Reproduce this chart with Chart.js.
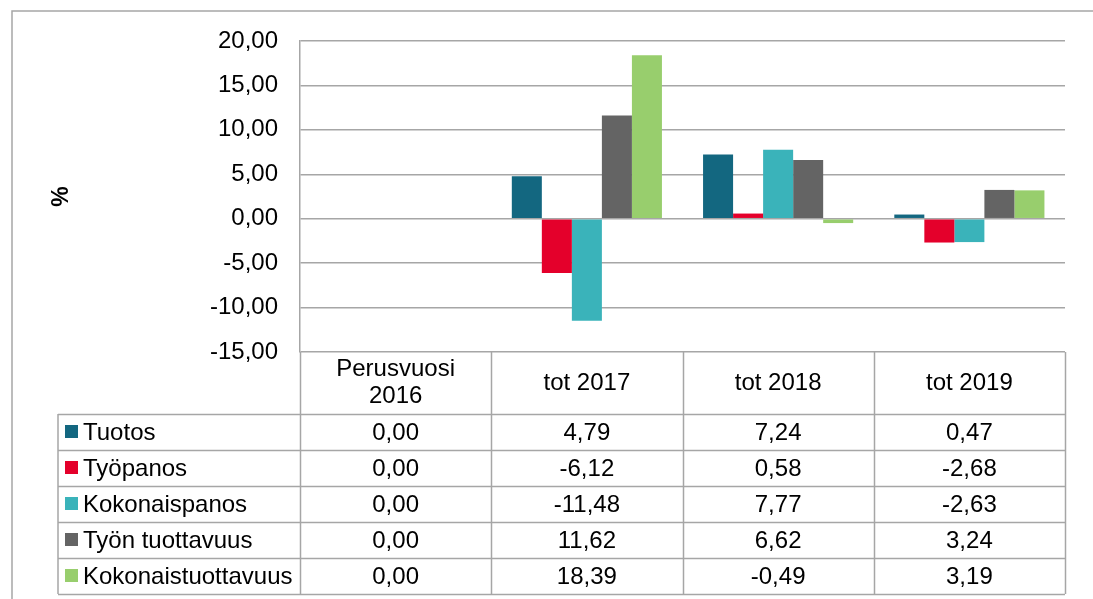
<!DOCTYPE html>
<html>
<head>
<meta charset="utf-8">
<script src="https://cdn.jsdelivr.net/npm/chart.js@4.4.1/dist/chart.umd.min.js"></script>
<style>
  body { margin: 0; background: #fff; }
  #wrap { width: 1093px; height: 599px; }
</style>
</head>
<body>
<div id="wrap"><canvas id="chart" width="1093" height="599"></canvas></div>
<script>
const categories = [['Perusvuosi', '2016'], 'tot 2017', 'tot 2018', 'tot 2019'];
const seriesNames = ['Tuotos', 'Työpanos', 'Kokonaispanos', 'Työn tuottavuus', 'Kokonaistuottavuus'];
const seriesColors = ['#136780', '#E4002B', '#3AB3BA', '#646464', '#98CE6D'];
const tuotos = [0.00, 4.79, 7.24, 0.47];
const tyopanos = [0.00, -6.12, 0.58, -2.68];
const kokonaispanos = [0.00, -11.48, 7.77, -2.63];
const tyonTuottavuus = [0.00, 11.62, 6.62, 3.24];
const kokonaistuottavuus = [0.00, 18.39, -0.49, 3.19];
const yTicks = [-15, -10, -5, 0, 5, 10, 15, 20];

const allSeries = [tuotos, tyopanos, kokonaispanos, tyonTuottavuus, kokonaistuottavuus];
const fmt = v => v.toFixed(2).replace('.', ',');
const FONT = '"Liberation Sans", Arial, sans-serif';
const lineCol = '#a6a6a6';

// outer frame + data table under the plot
const tablePlugin = {
  id: 'dataTable',
  beforeDraw(chart) {
    const ctx = chart.ctx;
    ctx.save();
    ctx.strokeStyle = lineCol;
    ctx.lineWidth = 1.5;
    ctx.beginPath();
    ctx.moveTo(12, 599);
    ctx.lineTo(12, 11);
    ctx.lineTo(1093, 11);
    ctx.stroke();
    ctx.restore();
  },
  afterDraw(chart) {
    const ctx = chart.ctx;
    const x = chart.scales.x;
    const area = chart.chartArea;
    const colW = (area.right - area.left) / categories.length;
    const top = area.bottom;
    const headH = 62, rowH = 36;
    const labelLeft = 58;
    const bottom = top + headH + rowH * seriesNames.length;

    ctx.save();
    ctx.strokeStyle = lineCol;
    ctx.lineWidth = 1.5;
    ctx.beginPath();
    // verticals for category columns
    for (let i = 0; i <= categories.length; i++) {
      const px = Math.round(area.left + colW * i) + 0.5;
      ctx.moveTo(px, top);
      ctx.lineTo(px, bottom);
    }
    ctx.moveTo(labelLeft, top + headH);
    ctx.lineTo(labelLeft, bottom);
    // horizontals
    for (let r = 0; r <= seriesNames.length; r++) {
      const py = Math.round(top + headH + rowH * r) + 0.5;
      ctx.moveTo(labelLeft, py);
      ctx.lineTo(area.right, py);
    }
    ctx.stroke();

    ctx.fillStyle = '#000';
    ctx.font = '24px ' + FONT;
    ctx.textAlign = 'center';
    ctx.textBaseline = 'middle';
    categories.forEach((c, i) => {
      const cx = x.getPixelForValue(i);
      const lines = Array.isArray(c) ? c : [c];
      const lh = 27;
      const y0 = top + headH / 2 - (lines.length - 1) * lh / 2;
      lines.forEach((t, k) => ctx.fillText(t, cx, y0 + k * lh));
    });

    seriesNames.forEach((name, r) => {
      const cy = top + headH + rowH * r + rowH / 2;
      ctx.fillStyle = seriesColors[r];
      ctx.fillRect(65, cy - 7, 13, 13);
      ctx.fillStyle = '#000';
      ctx.textAlign = 'left';
      ctx.fillText(name, 83, cy + 1);
      ctx.textAlign = 'center';
      allSeries[r].forEach((v, i) => {
        ctx.fillText(fmt(v), x.getPixelForValue(i), cy + 1);
      });
    });
    ctx.restore();
  }
};

const ctx = document.getElementById('chart').getContext('2d');
new Chart(ctx, {
  type: 'bar',
  data: {
    labels: categories,
    datasets: seriesNames.map((name, i) => ({
      label: name,
      data: allSeries[i],
      backgroundColor: seriesColors[i],
      borderWidth: 0
    }))
  },
  options: {
    responsive: false,
    animation: false,
    categoryPercentage: 0.785,
    barPercentage: 1,
    layout: { padding: { top: 41, right: 28, bottom: 247, left: 48 } },
    plugins: {
      legend: { display: false },
      tooltip: { enabled: false }
    },
    scales: {
      x: { display: false },
      y: {
        min: -15,
        max: 20,
        afterBuildTicks: s => { s.ticks = yTicks.map(v => ({ value: v })); },
        afterFit: s => { s.width = 252; },
        grid: { color: lineCol, lineWidth: 1.5, drawTicks: false },
        border: { color: lineCol, width: 1.5 },
        ticks: {
          padding: 22,
          color: '#000',
          font: { family: FONT, size: 24 },
          callback: v => fmt(v)
        },
        title: {
          display: true,
          text: '%',
          color: '#000',
          padding: 0,
          font: { family: FONT, size: 23, weight: 'bold' }
        }
      }
    }
  },
  plugins: [tablePlugin]
});
</script>
</body>
</html>
